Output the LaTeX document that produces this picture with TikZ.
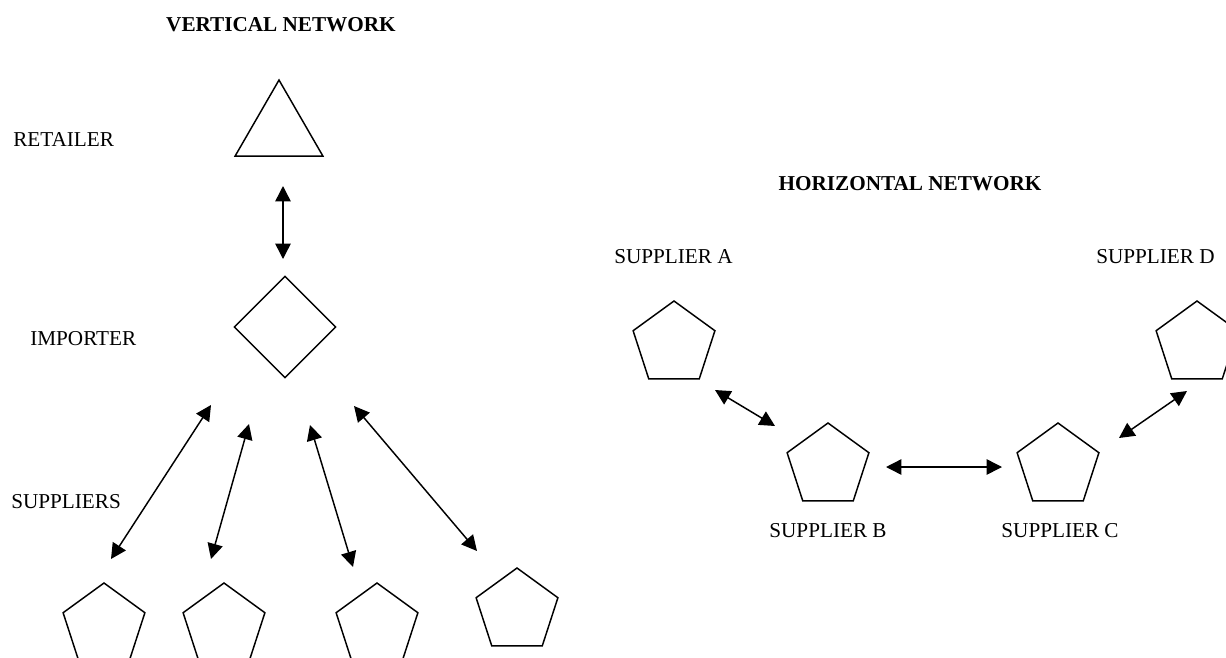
\documentclass[tikz,border=0pt]{standalone}
\usepackage{fontspec}
\setmainfont{Liberation Serif}
\usetikzlibrary{shapes.geometric, arrows.meta}

\tikzset{
	penta/.style = {draw, line width = 1.1pt, regular polygon, regular polygon sides = 5, minimum size = 64.5pt, inner sep = 0pt},
	label/.style = {inner sep = 0pt, font = \fontsize{15.9}{19}\selectfont},
	title/.style = {label, font = \fontsize{15.9}{19}\selectfont\bfseries},
	link/.style = {{Triangle[length = 11.5pt, width = 11.5pt]}-{Triangle[length = 11.5pt, width = 11.5pt]}, line width = 1.1pt}
}

\begin{document}
\begin{tikzpicture}[x = 0.75pt, y = -0.75pt]
				%	frame
				\useasboundingbox (0, 0) rectangle (1226, 657);
				
				%	vertical network
				\node[title] (vtitle) at (281, 25) {VERTICAL NETWORK};
				
				\node[label, anchor = west] (retlabel) at (13, 139) {RETAILER};
				\node[label, anchor = west] (implabel) at (30, 339) {IMPORTER};
				\node[label, anchor = west] (suplabel) at (11, 502) {SUPPLIERS};
				
				\node[draw, line width = 1.1pt, regular polygon, regular polygon sides = 3, minimum size = 76pt, inner sep = 0pt] (retailer) at (279, 130.7) {};
				\node[draw, line width = 1.1pt, diamond, minimum width = 76.5pt, minimum height = 76.5pt, inner sep = 0pt] (importer) at (285, 327) {};
				
				\node[penta] (s1) at (104, 626) {};
				\node[penta] (s2) at (224, 626) {};
				\node[penta] (s3) at (377, 626) {};
				\node[penta] (s4) at (517, 611) {};
				
				%	arrow ends
				\coordinate (ret-imp) at (283, 186);
				\coordinate (imp-ret) at (283, 259);
				\coordinate (imp-s1) at (211, 405);
				\coordinate (s1-imp) at (111, 559);
				\coordinate (imp-s2) at (249, 424);
				\coordinate (s2-imp) at (211, 559);
				\coordinate (imp-s3) at (310, 425);
				\coordinate (s3-imp) at (353, 567);
				\coordinate (imp-s4) at (354, 406);
				\coordinate (s4-imp) at (477, 551);
				
				\draw[link] (ret-imp) -- (imp-ret);
				\draw[link] (imp-s1) -- (s1-imp);
				\draw[link] (imp-s2) -- (s2-imp);
				\draw[link] (imp-s3) -- (s3-imp);
				\draw[link] (imp-s4) -- (s4-imp);
				
				%	horizontal network
				\node[title] (htitle) at (910, 184) {HORIZONTAL NETWORK};
				
				\node[penta] (sa) at (674, 344) {};
				\node[penta] (sb) at (828, 466) {};
				\node[penta] (sc) at (1058, 466) {};
				\node[penta] (sd) at (1197, 344) {};
				
				\node[label, anchor = west] (salabel) at (614, 257) {SUPPLIER A};
				\node[label, anchor = west] (sdlabel) at (1096, 257) {SUPPLIER D};
				\node[label] (sblabel) at (828, 531) {SUPPLIER B};
				\node[label] (sclabel) at (1060, 531) {SUPPLIER C};
				
				\coordinate (sa-sb) at (715, 390);
				\coordinate (sb-sa) at (775, 426);
				\coordinate (sb-sc) at (886, 467);
				\coordinate (sc-sb) at (1002, 467);
				\coordinate (sd-sc) at (1187, 391);
				\coordinate (sc-sd) at (1119, 438);
				
				\draw[link] (sa-sb) -- (sb-sa);
				\draw[link] (sb-sc) -- (sc-sb);
				\draw[link] (sd-sc) -- (sc-sd);
\end{tikzpicture}
\end{document}
